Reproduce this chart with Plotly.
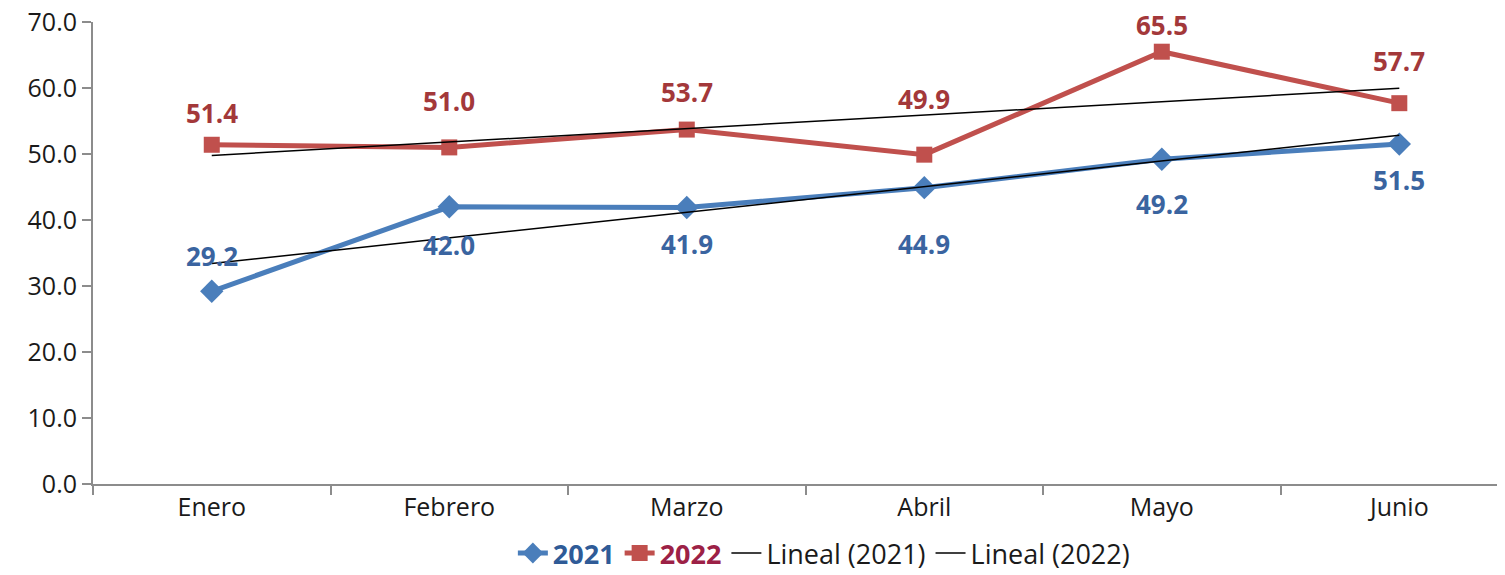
import numpy as np
import plotly.graph_objects as go

meses = ["Enero", "Febrero", "Marzo", "Abril", "Mayo", "Junio"]
v2021 = [29.2, 42.0, 41.9, 44.9, 49.2, 51.5]
v2022 = [51.4, 51.0, 53.7, 49.9, 65.5, 57.7]
y_ticks = [0, 10, 20, 30, 40, 50, 60, 70]

# label pixel offsets (style)
off2021 = [35, -38, -37, -56, -45, -36]
off2022 = [32, 46, 38, 56, 27, 42]

FONT = "Open Sans"
BLUE = "#4a7ebb"
BLUE_TXT = "#3a64a0"
RED = "#c0504d"
RED_TXT = "#a3383a"

xi = np.arange(len(meses))
def trend(v):
    m, b = np.polyfit(xi, v, 1)
    return list(m * xi + b)

fig = go.Figure()
fig.add_trace(go.Scatter(x=meses, y=v2021, mode="lines+markers",
                         name="<b><span style='color:#2f5b97'>2021</span></b>",
                         line=dict(color=BLUE, width=5),
                         marker=dict(symbol="diamond", size=18, color=BLUE)))
fig.add_trace(go.Scatter(x=meses, y=v2022, mode="lines+markers",
                         name="<b><span style='color:#9c2146'>2022</span></b>",
                         line=dict(color=RED, width=5),
                         marker=dict(symbol="square", size=16, color=RED)))
fig.add_trace(go.Scatter(x=meses, y=trend(v2021), mode="lines", name="Lineal (2021)",
                         line=dict(color="black", width=1.5)))
fig.add_trace(go.Scatter(x=meses, y=trend(v2022), mode="lines", name="Lineal (2022)",
                         line=dict(color="black", width=1.5)))

for m, v, o in zip(meses, v2021, off2021):
    fig.add_annotation(x=m, y=v, text=f"<b>{v:.1f}</b>", showarrow=False, yshift=o,
                       font=dict(family=FONT, size=26, color=BLUE_TXT))
for m, v, o in zip(meses, v2022, off2022):
    fig.add_annotation(x=m, y=v, text=f"<b>{v:.1f}</b>", showarrow=False, yshift=o,
                       font=dict(family=FONT, size=26, color=RED_TXT))

fig.update_layout(
    width=1497, height=567,
    margin=dict(l=85, r=0, t=14, b=91, autoexpand=False),
    paper_bgcolor="white", plot_bgcolor="white",
    font=dict(family=FONT, size=25, color="#1a1a1a"),
    showlegend=True,
    legend=dict(orientation="h", xref="container", yref="container",
                x=0.545, xanchor="center", y=0.038, yanchor="middle",
                font=dict(family=FONT, size=27, color="#1a1a1a"),
                itemwidth=30, tracegroupgap=0, bgcolor="rgba(0,0,0,0)"),
)
fig.update_xaxes(type="category", range=[-0.5, 5.445], showline=True, linecolor="#8c8c8c",
                 linewidth=2, ticks="outside", tickson="boundaries", ticklen=9,
                 tickcolor="#8c8c8c", tickwidth=2, showgrid=False, zeroline=False,
                 ticklabeloverflow="allow",
                 tickfont=dict(family=FONT, size=25, color="#1a1a1a"))
fig.update_yaxes(range=[0, 70], tickvals=y_ticks, tickformat=".1f", showline=True,
                 linecolor="#8c8c8c", linewidth=2, ticks="outside", ticklen=9,
                 tickcolor="#8c8c8c", tickwidth=2, showgrid=False, zeroline=False,
                 ticklabeloverflow="allow",
                 tickfont=dict(family=FONT, size=25, color="#1a1a1a"))

fig.write_html("out.html")
